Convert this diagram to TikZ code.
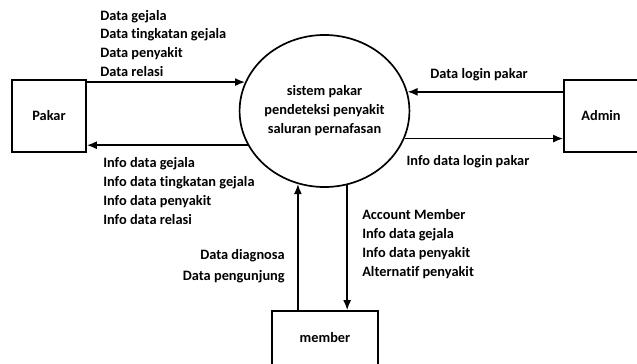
\documentclass[tikz,border=0pt]{standalone}
\usepackage{fontspec}
\setmainfont{Carlito}[Ligatures=NoCommon]
\usetikzlibrary{shapes.geometric}
\usetikzlibrary{arrows.meta}

\begin{document}
\begin{tikzpicture}[x=0.025cm,y=-0.025cm,
        font=\bfseries\fontsize{10.2}{13.5}\selectfont,
        entity/.style={draw,line width=1.2pt,minimum width=1.85cm,minimum height=1.8cm},
        flow/.style={line width=1.1pt,-{Latex[length=2.5mm,width=2mm]}},
        lbl/.style={align=left,inner sep=0pt}]
        \useasboundingbox (0,0) rectangle (637,363);
        \node[entity] (pakar) at (49,116) {Pakar};
        \node[entity] (admin) at (601,116) {Admin};
        \node[entity,minimum width=2.65cm,minimum height=1.35cm] (member) at (325,338) {member};
        \node[draw,ellipse,line width=1.2pt,inner sep=0pt,minimum width=3.425cm,minimum height=3.8cm,align=center] (sys) at (324.5,111) {sistem pakar\\pendeteksi penyakit\\saluran pernafasan};
        \draw[flow] (pakar.east |- sys.160.6) -- (sys.160.6);
        \draw[flow] (sys.204.6) -- (pakar.east |- sys.204.6);
        \draw[flow] (admin.west |- sys.13.4) -- (sys.13.4);
        \draw[flow] (sys.341.5) -- (admin.west |- sys.341.5);
        \draw[flow] (member.north -| sys.250.1) -- (sys.250.1);
        \draw[flow] (sys.287.4) -- (member.north -| sys.287.4);
        \node[lbl,anchor=west] (datapakar) at (100,43.5) {Data gejala\\Data tingkatan gejala\\Data penyakit\\Data relasi};
        \node[lbl,anchor=west] (infopakar) at (103,191) {Info data gejala\\Info data tingkatan gejala\\Info data penyakit\\Info data relasi};
        \node[lbl] (loginadmin) at (479,75) {Data login pakar};
        \node[lbl] (infoadmin) at (468,162) {Info data login pakar};
        \node[lbl,align=right,anchor=east] (datamember) at (285,266.5) {Data diagnosa\\[1.5pt]Data pengunjung};
        \node[lbl,anchor=west] (infomember) at (362,244) {Account Member\\Info data gejala\\Info data penyakit\\Alternatif penyakit};
\end{tikzpicture}
\end{document}
